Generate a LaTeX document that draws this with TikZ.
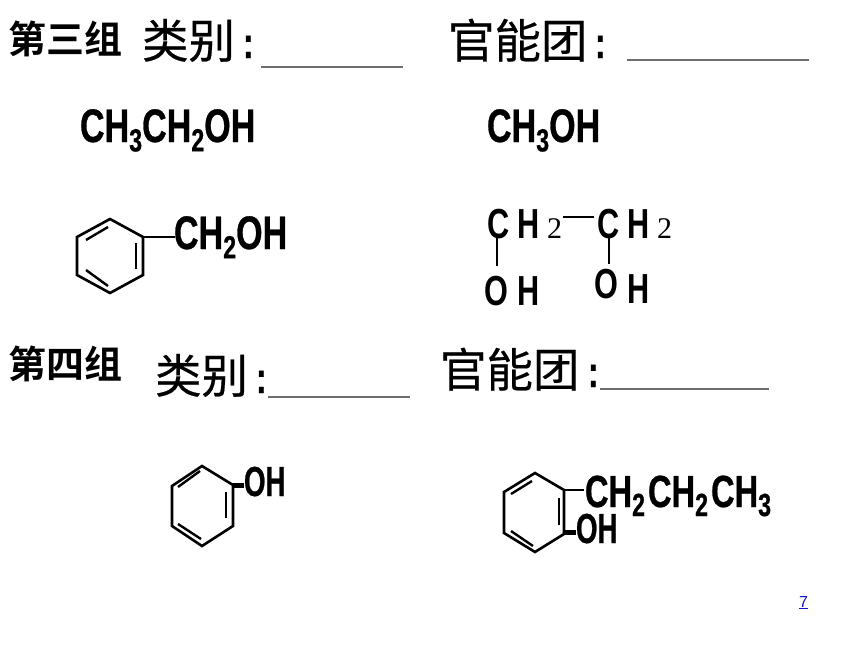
\documentclass[tikz,border=0pt]{standalone}
\usepackage{fontspec}
\setmainfont{Liberation Sans}
\newfontfamily\cjk[FakeBold=0.4]{Noto Sans CJK SC}
\newfontfamily\cjkb{Noto Sans CJK SC Bold}
\newfontfamily\chem[FakeStretch=0.725,FakeBold=0.6]{Liberation Sans Bold}
\newfontfamily\chemnarrow[FakeStretch=0.66,FakeBold=0.6]{Liberation Sans Bold}
\newfontfamily\chemthin[FakeStretch=0.73]{Liberation Sans}
\newfontfamily\ser{Liberation Serif}
\newcommand{\fs}[1]{\fontsize{#1}{#1}\selectfont}
\newcommand{\sub}[1]{\raisebox{-0.2em}{\fontsize{32}{32}\selectfont #1}}
\newcommand{\subw}[1]{\raisebox{-0.2em}{\fontsize{32}{32}\selectfont #1}\kern3pt\relax}
\definecolor{rulegray}{RGB}{110,110,110}
\definecolor{linkblue}{RGB}{20,20,200}
\tikzset{
  x=1pt,y=-1pt,
  txt/.style={inner sep=0pt,outer sep=0pt,anchor=base west,text=black},
  grouplabel/.style={txt,font=\cjkb\fs{38}},
  heading/.style={txt,font=\cjk\fs{46.5}},
  colonmark/.style={txt,font=\chem\fs{44}},
  chemA/.style={txt,font=\chem\fs{47}},
  chemB/.style={txt,font=\chem\fs{45}},
  chemC/.style={txt,font=\chemnarrow\fs{42}},
  thinl/.style={txt,font=\chemthin\bfseries\fs{42}},
  thins/.style={txt,font=\ser\fs{30}},
  ring/.style={draw=black,line width=2.6pt,line join=miter},
  inner/.style={draw=black,line width=2.4pt},
  bond/.style={draw=black,line width=2.6pt},
  thickbond/.style={draw=black,line width=5pt},
  answer/.style={draw=rulegray,line width=1.2pt}
}
\begin{document}
\begin{tikzpicture}
\useasboundingbox[fill=white] (0,0) rectangle (860,645);
% headings
\node[grouplabel] (g3) at (9,53) {第三组};
\node[heading] (h1) at (142,58) {类别};
\node[colonmark] (c1) at (243,58) {:};
\node[heading] (h2) at (448,58) {官能团};
\node[colonmark] (c2) at (595,58) {:};
\coordinate (a1) at (261,67); \coordinate (a2) at (403,67);
\coordinate (b1) at (627,60); \coordinate (b2) at (809,60);
\draw[answer] (a1)--(a2); \draw[answer] (b1)--(b2);
\node[grouplabel] (g4) at (9,378) {第四组};
\node[heading] (h3) at (155,393) {类别};
\node[colonmark] (c3) at (256,393) {:};
\node[heading] (h4) at (440,387) {官能团};
\node[colonmark] (c4) at (588,387) {:};
\coordinate (d1) at (268,397); \coordinate (d2) at (410,397);
\coordinate (e1) at (600,389); \coordinate (e2) at (769,389);
\draw[answer] (d1)--(d2); \draw[answer] (e1)--(e2);
% formulas
\node[chemA] (ethanol) at (80,142) {CH\sub{3}CH\sub{2}OH};
\node[chemA] (methanol) at (487,142) {CH\sub{3}OH};
% benzyl alcohol
\coordinate (r1a) at (110,219); \coordinate (r1b) at (143,237); \coordinate (r1c) at (143,275);
\coordinate (r1d) at (110,293); \coordinate (r1e) at (77,275); \coordinate (r1f) at (77,237);
\draw[ring] (r1a)--(r1b)--(r1c)--(r1d)--(r1e)--(r1f)--cycle;
\draw[inner] (136,243)--(136,269);
\draw[inner] (86,240)--(108,227);
\draw[inner] (86,270)--(108,286);
\node[chemA] (benzyl) at (174,249) {CH\sub{2}OH};
\draw[bond] (r1b)--(175,237);
% ethylene glycol
\node[thinl] (gc1) at (487,238) {C};
\node[thinl] (gh1) at (517,238) {H};
\node[thins] (g21) at (547,238) {2};
\node[thinl] (gc2) at (597,238) {C};
\node[thinl] (gh2) at (627,238) {H};
\node[thins] (g22) at (657,238) {2};
\node[thinl] (go1) at (484,305) {O};
\node[thinl] (goh1) at (517,305) {H};
\node[thinl] (go2) at (594,298) {O};
\node[thinl] (goh2) at (627,303) {H};
\coordinate (gb1) at (563,217); \coordinate (gb2) at (594,217);
\draw[bond] (gb1)--(gb2);
\coordinate (gv1) at (497,236); \coordinate (gv2) at (497,266);
\coordinate (gv3) at (609,236); \coordinate (gv4) at (609,264);
\draw[bond] (gv1)--(gv2); \draw[bond] (gv3)--(gv4);
% phenol
\coordinate (r2a) at (202,466); \coordinate (r2b) at (233,485); \coordinate (r2c) at (233,526);
\coordinate (r2d) at (202,546); \coordinate (r2e) at (172,526); \coordinate (r2f) at (172,486);
\draw[ring] (r2a)--(r2b)--(r2c)--(r2d)--(r2e)--(r2f)--cycle;
\draw[inner] (226,492)--(226,518);
\draw[inner] (178,487)--(200,471);
\draw[inner] (178,524)--(201,539);
\node[chemC] (phenolOH) at (244,496) {OH};
\coordinate (p1) at (232,485); \coordinate (p2) at (244,485);
\draw[thickbond] (p1)--(p2);
% propylphenol
\coordinate (r3a) at (535,473); \coordinate (r3b) at (564,490); \coordinate (r3c) at (564,534);
\coordinate (r3d) at (535,552); \coordinate (r3e) at (504,533); \coordinate (r3f) at (504,492);
\draw[ring] (r3a)--(r3b)--(r3c)--(r3d)--(r3e)--(r3f)--cycle;
\draw[inner] (559,498)--(559,525);
\draw[inner] (511,494)--(532,481);
\draw[inner] (511,531)--(533,546);
\node[chemB] (propyl) at (585,507) {CH\subw{2}CH\subw{2}CH\subw{3}};
\node[chemC] (propOH) at (576,543) {OH};
\coordinate (q1) at (584,490);
\draw[bond] (r3b)--(q1);
\coordinate (q2) at (563,532); \coordinate (q3) at (576,532);
\draw[thickbond] (q2)--(q3);
% page link
\node[txt,font=\fs{16},text=linkblue] (pg) at (799,607) {\underline{7}};
\end{tikzpicture}
\end{document}
